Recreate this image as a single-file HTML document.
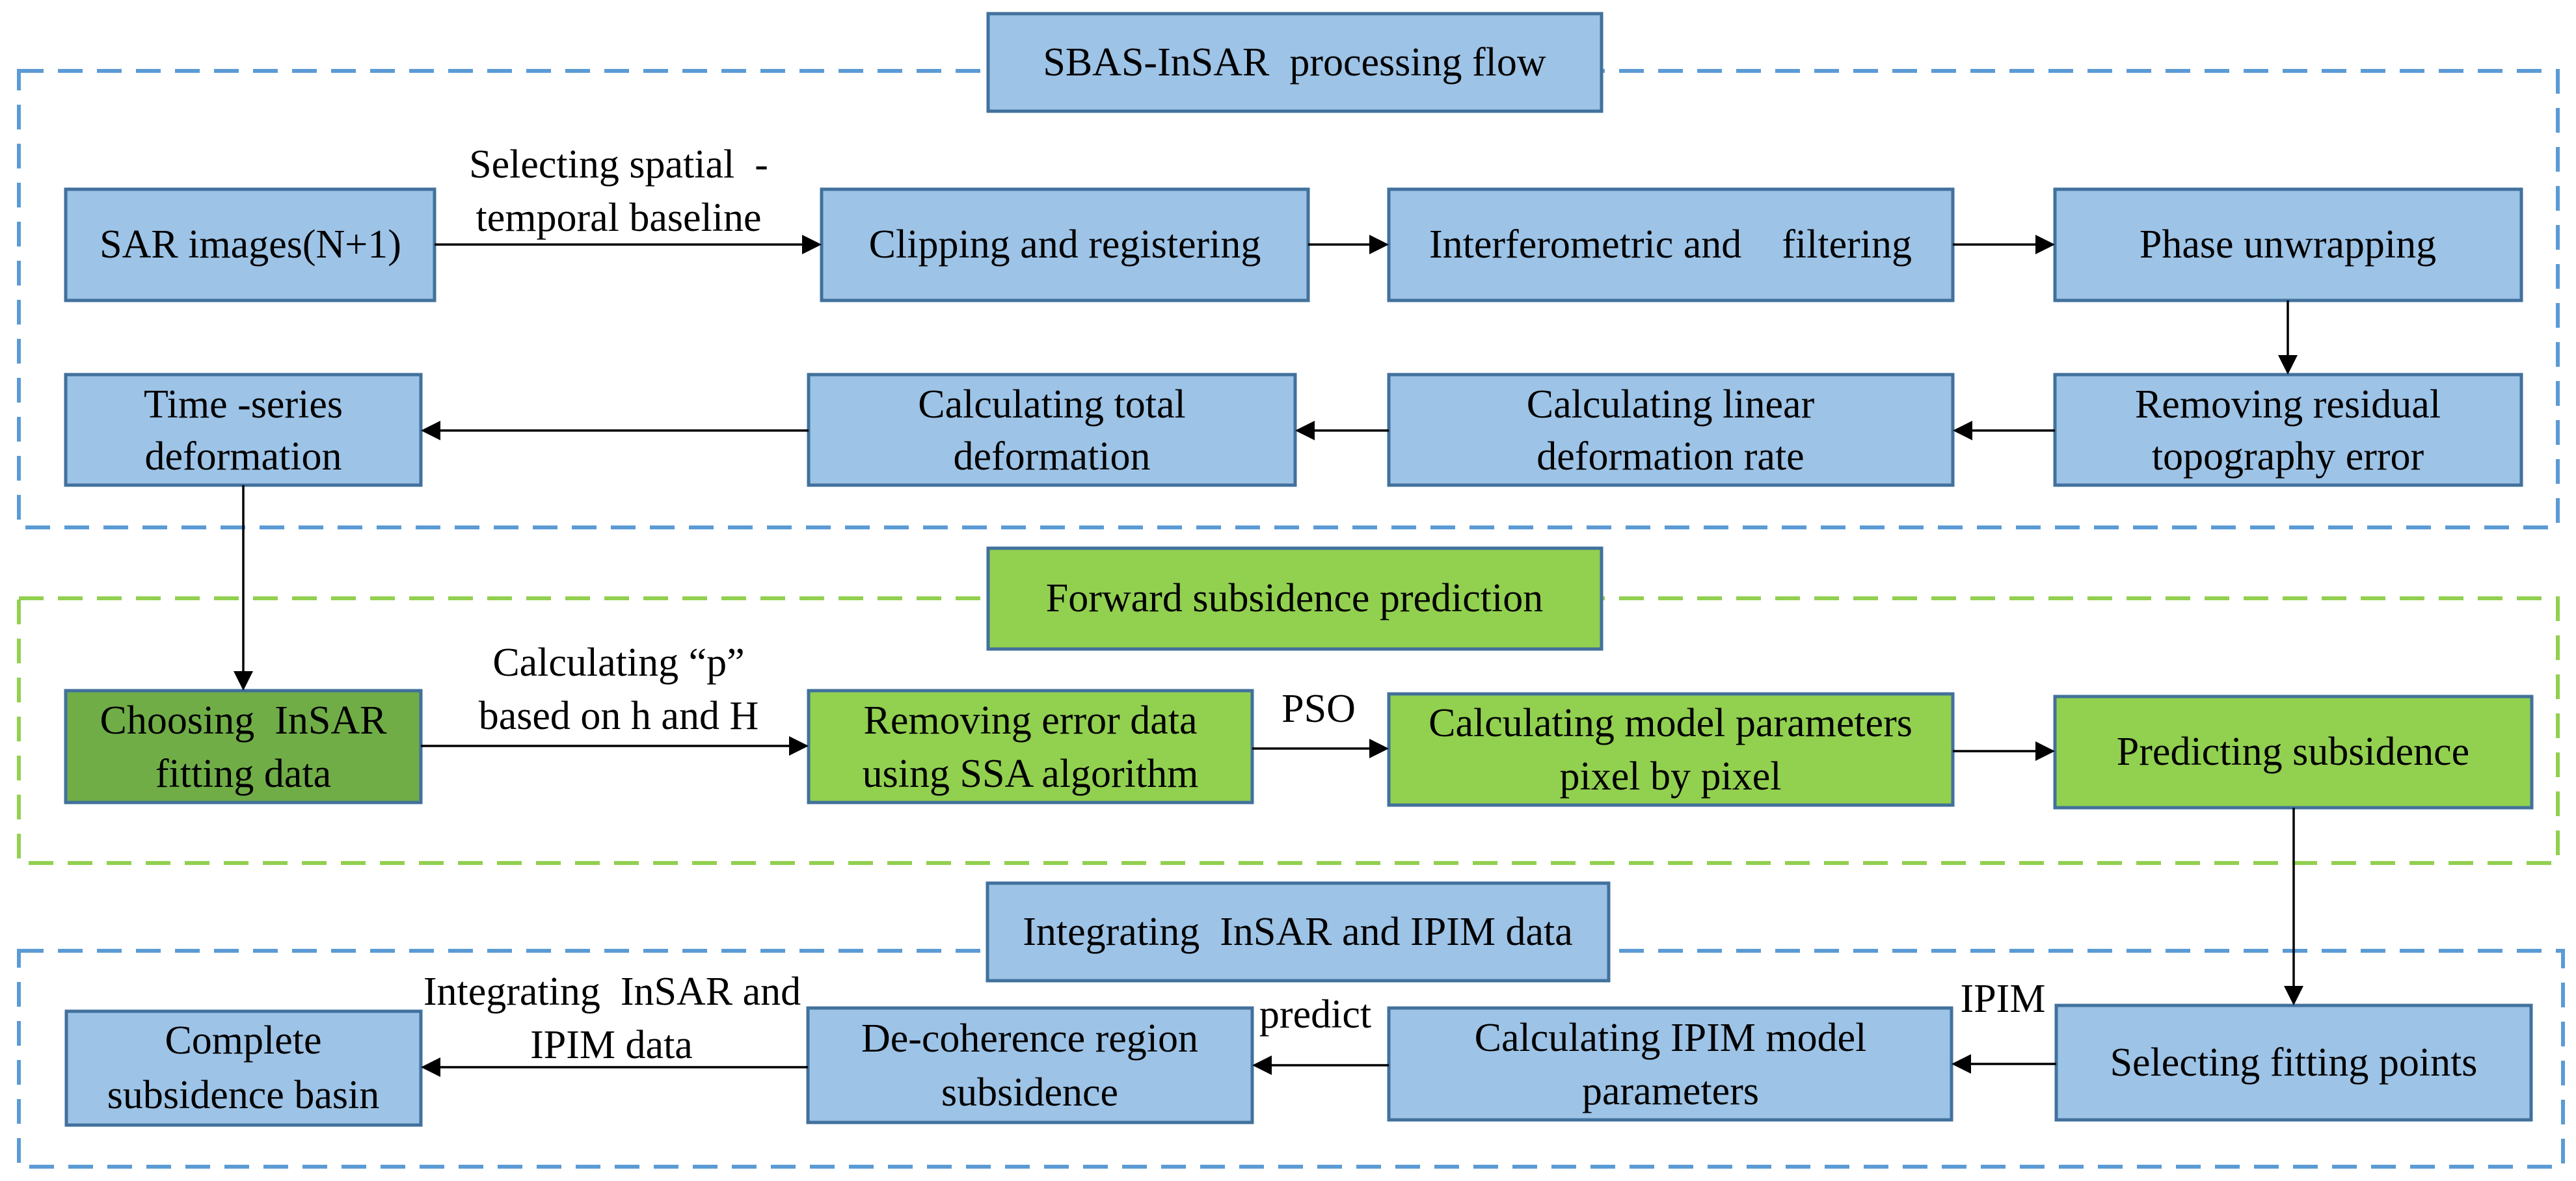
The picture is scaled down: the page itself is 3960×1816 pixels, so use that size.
<!DOCTYPE html>
<html><head><meta charset="utf-8"><style>
html,body{margin:0;padding:0;background:#fff;}
text{font-family:"Liberation Serif","Times New Roman",serif;}
</style></head><body>
<svg width="3960" height="1811" viewBox="0 0 3960 1811" xmlns="http://www.w3.org/2000/svg">
<g fill="none" stroke-width="6" stroke-dasharray="38,22">
<rect x="29" y="109" width="3903" height="702" stroke="#5b9bd5"/>
<rect x="29" y="920" width="3903" height="407" stroke="#92d050"/>
<rect x="29" y="1462" width="3911" height="332" stroke="#5b9bd5"/>
</g>
<g stroke="#41719c" stroke-width="5">
<rect x="1519" y="21" width="943" height="150" fill="#9dc3e6"/>
<rect x="1519" y="843" width="943" height="155" fill="#92d050"/>
<rect x="1518" y="1358" width="955" height="150" fill="#9dc3e6"/>
<rect x="101" y="291" width="567" height="171" fill="#9dc3e6"/>
<rect x="1263" y="291" width="748" height="171" fill="#9dc3e6"/>
<rect x="2135" y="291" width="867" height="171" fill="#9dc3e6"/>
<rect x="3159" y="291" width="717" height="171" fill="#9dc3e6"/>
<rect x="3159" y="576" width="717" height="170" fill="#9dc3e6"/>
<rect x="2135" y="576" width="867" height="170" fill="#9dc3e6"/>
<rect x="1243" y="576" width="748" height="170" fill="#9dc3e6"/>
<rect x="101" y="576" width="546" height="170" fill="#9dc3e6"/>
<rect x="101" y="1062" width="546" height="172" fill="#70ad47"/>
<rect x="1243" y="1062" width="682" height="172" fill="#92d050"/>
<rect x="2135" y="1067" width="867" height="171" fill="#92d050"/>
<rect x="3159" y="1071" width="733" height="171" fill="#92d050"/>
<rect x="102" y="1555" width="545" height="175" fill="#9dc3e6"/>
<rect x="1242" y="1550" width="683" height="176" fill="#9dc3e6"/>
<rect x="2135" y="1550" width="865" height="172" fill="#9dc3e6"/>
<rect x="3161" y="1546" width="730" height="176" fill="#9dc3e6"/>
</g>
<g stroke="#000" stroke-width="3.5">
<line x1="668" y1="376" x2="1235" y2="376"/>
<line x1="2011" y1="376" x2="2107" y2="376"/>
<line x1="3002" y1="376" x2="3131" y2="376"/>
<line x1="3517" y1="462" x2="3517" y2="548"/>
<line x1="3159" y1="662" x2="3030" y2="662"/>
<line x1="2135" y1="662" x2="2019" y2="662"/>
<line x1="1243" y1="662" x2="675" y2="662"/>
<line x1="374" y1="746" x2="374" y2="1034"/>
<line x1="647" y1="1147" x2="1215" y2="1147"/>
<line x1="1925" y1="1151" x2="2107" y2="1151"/>
<line x1="3002" y1="1155" x2="3131" y2="1155"/>
<line x1="3526" y1="1242" x2="3526" y2="1518"/>
<line x1="3161" y1="1636" x2="3028" y2="1636"/>
<line x1="2135" y1="1638" x2="1953" y2="1638"/>
<line x1="1242" y1="1641" x2="675" y2="1641"/>
</g>
<g fill="#000">
<polygon points="1263,376 1233,361 1233,391"/>
<polygon points="2135,376 2105,361 2105,391"/>
<polygon points="3159,376 3129,361 3129,391"/>
<polygon points="3517,576 3502,546 3532,546"/>
<polygon points="3002,662 3032,647 3032,677"/>
<polygon points="1991,662 2021,647 2021,677"/>
<polygon points="647,662 677,647 677,677"/>
<polygon points="374,1062 359,1032 389,1032"/>
<polygon points="1243,1147 1213,1132 1213,1162"/>
<polygon points="2135,1151 2105,1136 2105,1166"/>
<polygon points="3159,1155 3129,1140 3129,1170"/>
<polygon points="3526,1546 3511,1516 3541,1516"/>
<polygon points="3000,1636 3030,1621 3030,1651"/>
<polygon points="1925,1638 1955,1623 1955,1653"/>
<polygon points="647,1641 677,1626 677,1656"/>
</g>
<g text-anchor="middle" dominant-baseline="central" font-family="'Liberation Serif', 'Times New Roman', serif" font-size="62" fill="#000">
<text x="1990" y="96">SBAS-InSAR&#160; processing flow</text>
<text x="1990" y="920">Forward subsidence prediction</text>
<text x="1995" y="1433">Integrating&#160; InSAR and IPIM data</text>
<text x="385" y="376">SAR images(N+1)</text>
<text x="1637" y="376">Clipping and registering</text>
<text x="2568" y="376">Interferometric and&#160;&#160;&#160; filtering</text>
<text x="3517" y="376">Phase unwrapping</text>
<text x="3517" y="622">Removing residual</text>
<text x="3517" y="702">topography error</text>
<text x="2568" y="622">Calculating linear</text>
<text x="2568" y="702">deformation rate</text>
<text x="1617" y="622">Calculating total</text>
<text x="1617" y="702">deformation</text>
<text x="374" y="622">Time -series</text>
<text x="374" y="702">deformation</text>
<text x="374" y="1108">Choosing&#160; InSAR</text>
<text x="374" y="1190">fitting data</text>
<text x="1584" y="1108">Removing error data</text>
<text x="1584" y="1190">using SSA algorithm</text>
<text x="2568" y="1112">Calculating model parameters</text>
<text x="2568" y="1194">pixel by pixel</text>
<text x="3525" y="1156">Predicting subsidence</text>
<text x="374" y="1600">Complete</text>
<text x="374" y="1684">subsidence basin</text>
<text x="1583" y="1597">De-coherence region</text>
<text x="1583" y="1680">subsidence</text>
<text x="2568" y="1596">Calculating IPIM model</text>
<text x="2568" y="1678">parameters</text>
<text x="3526" y="1634">Selecting fitting points</text>
<text x="951" y="253">Selecting spatial&#160; -</text>
<text x="951" y="335">temporal baseline</text>
<text x="951" y="1019">Calculating “p”</text>
<text x="951" y="1101">based on h and H</text>
<text x="2027" y="1090">PSO</text>
<text x="3079" y="1536">IPIM</text>
<text x="2022" y="1560">predict</text>
<text x="941" y="1525">Integrating&#160; InSAR and</text>
<text x="940" y="1607">IPIM data</text>
</g>
</svg>
</body></html>
